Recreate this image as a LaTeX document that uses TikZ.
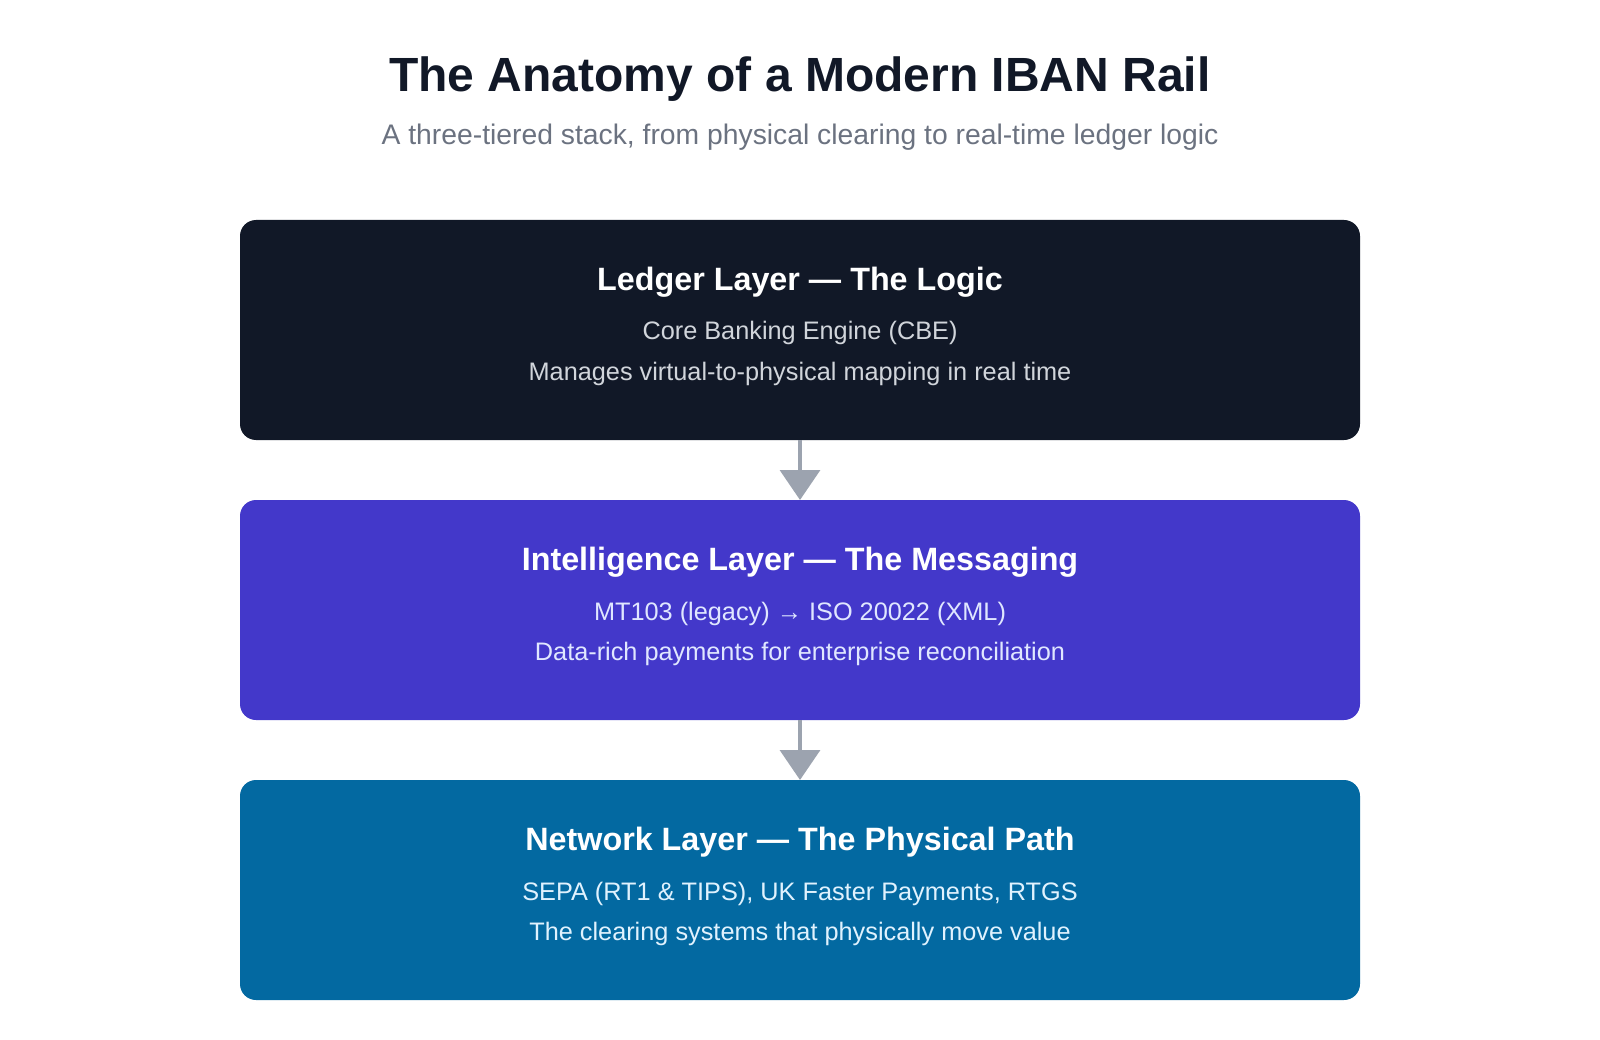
\documentclass[tikz,border=0pt]{standalone}
\usepackage{fontspec}
\setmainfont{Liberation Sans}
\usetikzlibrary{positioning,arrows.meta}

\definecolor{ink}{HTML}{111827}
\definecolor{slate}{HTML}{6B7280}
\definecolor{indigo}{HTML}{4338CA}
\definecolor{sky}{HTML}{0369A1}
\definecolor{linkgray}{HTML}{9CA3AF}
\definecolor{ledgertext}{HTML}{D1D5DB}
\definecolor{inteltext}{HTML}{E0E7FF}
\definecolor{nettext}{HTML}{E0F2FE}

\begin{document}
\begin{tikzpicture}[x=1pt,y=1pt,-{Triangle[width=40pt,length=30pt]},line width=3.5pt]
\tikzstyle{layer}=[rounded corners=16pt,minimum width=1120pt,minimum height=220pt,inner sep=0pt,outer sep=0pt]
\tikzstyle{heading}=[anchor=base,text=white,font=\fontsize{32.3}{38}\selectfont\bfseries]
\tikzstyle{detail}=[anchor=base,font=\fontsize{25.3}{30}\selectfont]

\useasboundingbox (0,0) rectangle (1600,-1040);

% title and subtitle
\node[anchor=base,text=ink,font=\fontsize{48}{56}\selectfont\bfseries] (title) at (800,-92) {The Anatomy of a Modern IBAN Rail};
\node[anchor=base,text=slate,font=\fontsize{28.3}{34}\selectfont] (subtitle) at (800,-145) {A three-tiered stack, from physical clearing to real-time ledger logic};

% the three layers
\node[layer,fill=ink,anchor=north] (ledger) at (800,-220) {};
\node[layer,fill=indigo,below=60pt of ledger] (intel) {};
\node[layer,fill=sky,below=60pt of intel] (network) {};

\node[heading] (ledger-head) at ([yshift=-70.5pt] ledger.north) {Ledger Layer — The Logic};
\node[detail,text=ledgertext] (ledger-a) at ([yshift=-120pt] ledger.north) {Core Banking Engine (CBE)};
\node[detail,text=ledgertext] (ledger-b) at ([yshift=-160pt] ledger.north) {Manages virtual-to-physical mapping in real time};

\node[heading] (intel-head) at ([yshift=-70.5pt] intel.north) {Intelligence Layer — The Messaging};
\node[detail,text=inteltext] (intel-a) at ([yshift=-120pt] intel.north) {MT103 (legacy) → ISO 20022 (XML)};
\node[detail,text=inteltext] (intel-b) at ([yshift=-160pt] intel.north) {Data-rich payments for enterprise reconciliation};

\node[heading] (network-head) at ([yshift=-70.5pt] network.north) {Network Layer — The Physical Path};
\node[detail,text=nettext] (network-a) at ([yshift=-120pt] network.north) {SEPA (RT1 \& TIPS), UK Faster Payments, RTGS};
\node[detail,text=nettext] (network-b) at ([yshift=-160pt] network.north) {The clearing systems that physically move value};

% links
\draw[linkgray] (ledger) -- (intel);
\draw[linkgray] (intel) -- (network);

\end{tikzpicture}
\end{document}
